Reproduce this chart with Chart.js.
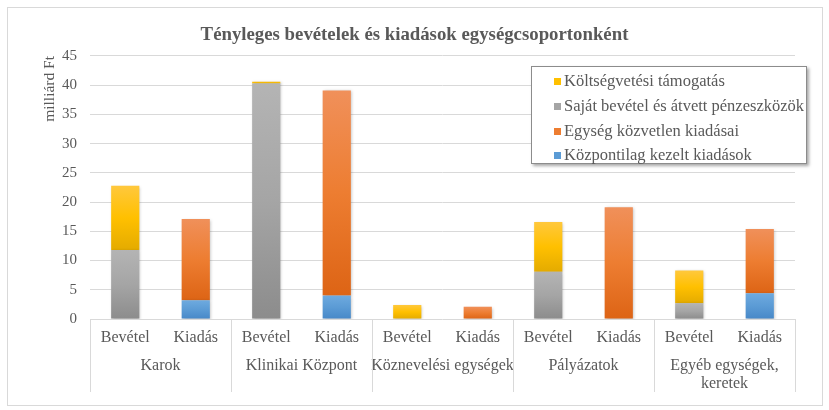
<!DOCTYPE html>
<html>
<head>
<meta charset="utf-8">
<script src="https://cdn.jsdelivr.net/npm/chart.js@4"></script>
<style>
  body { margin: 0; background: #fff; }
  #wrap { position: relative; width: 829px; height: 410px; }
  #frame { position: absolute; left: 7px; top: 7px; width: 814px; height: 397px; border: 1px solid #d9d9d9; }
  canvas { position: absolute; left: 0; top: 0; }
  #legend {
    position: absolute; left: 531px; top: 66px; width: 274px; height: 94px; padding-top: 2px;
    background: #fff; border: 1px solid #8c8c8c; box-shadow: 2px 2px 3px rgba(0,0,0,0.35);
    font-family: 'Liberation Serif', 'Times New Roman', serif; font-size: 16.5px; color: #595959;
  }
  #legend div { height: 24.8px; line-height: 24.8px; padding-left: 22px; white-space: nowrap; }
  #legend span { display: inline-block; width: 7px; height: 7px; margin-right: 3px; vertical-align: 1px; }
</style>
</head>
<body>
<div id="wrap">
  <div id="frame"></div>
  <canvas id="myChart" width="829" height="410"></canvas>
  <div id="legend"></div>
</div>
<script>
// kategóriák
const alKategoriak = ['Bevétel', 'Kiadás', 'Bevétel', 'Kiadás', 'Bevétel', 'Kiadás', 'Bevétel', 'Kiadás', 'Bevétel', 'Kiadás'];
const csoportok = ['Karok', 'Klinikai Központ', 'Köznevelési egységek', 'Pályázatok', ['Egyéb egységek,', 'keretek']];

// értékek (milliárd Ft)
const kozpontilag = [0, 3.2, 0, 4.0, 0, 0, 0, 0, 0, 4.4];
const egysegKozvetlen = [0, 13.9, 0, 35.1, 0, 2.1, 0, 19.1, 0, 11.0];
const sajatBevetel = [11.8, 0, 40.3, 0, 0, 0, 8.1, 0, 2.7, 0];
const koltsegvetesi = [11.0, 0, 0.3, 0, 2.4, 0, 8.5, 0, 5.6, 0];

const yTicks = [0, 5, 10, 15, 20, 25, 30, 35, 40, 45];

const betu = "'Liberation Serif', 'Times New Roman', serif";
Chart.defaults.font.family = betu;
Chart.defaults.font.size = 16;
Chart.defaults.color = '#595959';

// Excel-szerű színátmenet minden szegmensre külön
function szegmensSzin(szinek) {
  return function (ctx) {
    const chart = ctx.chart;
    const y = chart.scales.y;
    if (ctx.type !== 'data' || !y || !chart.chartArea) return szinek[1];
    const i = ctx.datasetIndex, j = ctx.dataIndex;
    let alap = 0;
    for (let k = 0; k < i; k++) alap += chart.data.datasets[k].data[j] || 0;
    const v = chart.data.datasets[i].data[j] || 0;
    if (!v) return szinek[1];
    const teto = y.getPixelForValue(alap + v), alja = y.getPixelForValue(alap);
    const g = chart.ctx.createLinearGradient(0, teto, 0, alja);
    g.addColorStop(0, szinek[0]);
    g.addColorStop(0.5, szinek[1]);
    g.addColorStop(1, szinek[2]);
    return g;
  };
}

const sorozatok = [
  { label: 'Központilag kezelt kiadások', data: kozpontilag, szinek: ['#6eaadf', '#5b9bd5', '#4788c8'] },
  { label: 'Egység közvetlen kiadásai', data: egysegKozvetlen, szinek: ['#f0905a', '#ed7d31', '#dd6415'] },
  { label: 'Saját bevétel és átvett pénzeszközök', data: sajatBevetel, szinek: ['#b4b4b4', '#a5a5a5', '#8c8c8c'] },
  { label: 'Költségvetési támogatás', data: koltsegvetesi, szinek: ['#ffc83d', '#ffc000', '#e4ab00'] }
];

// árnyék az oszlopok alatt
const oszlopArnyek = {
  id: 'oszlopArnyek',
  beforeDatasetsDraw(chart) {
    const c = chart.ctx;
    c.save();
    c.shadowColor = 'rgba(0,0,0,0.25)';
    c.shadowBlur = 3;
    c.shadowOffsetX = 1;
    c.shadowOffsetY = 1;
  },
  afterDatasetsDraw(chart) { chart.ctx.restore(); }
};

// függőleges elválasztók a csoportok között
const csoportVonalak = {
  id: 'csoportVonalak',
  afterDraw(chart) {
    const x = chart.scales.x, c = chart.ctx;
    const fent = chart.chartArea.bottom, lent = chart.scales.x2.bottom - 1;
    c.save();
    c.strokeStyle = '#d9d9d9';
    c.lineWidth = 1;
    for (let g = 0; g <= csoportok.length; g++) {
      const px = Math.round(x.getPixelForValue(g * 2 - 0.5)) + 0.5;
      c.beginPath();
      c.moveTo(px, fent);
      c.lineTo(px, lent);
      c.stroke();
    }
    c.restore();
  }
};

var ctx = document.getElementById('myChart').getContext('2d');
new Chart(ctx, {
  type: 'bar',
  data: {
    labels: alKategoriak,
    datasets: sorozatok.map(s => ({
      label: s.label,
      data: s.data,
      backgroundColor: szegmensSzin(s.szinek),
      borderWidth: 0,
      categoryPercentage: 1,
      barPercentage: 0.4
    }))
  },
  options: {
    responsive: false,
    animation: false,
    layout: { padding: { left: 0, right: 0, top: 0, bottom: 17 } },
    plugins: {
      legend: { display: false },
      tooltip: { enabled: false },
      title: {
        display: true,
        text: 'Tényleges bevételek és kiadások egységcsoportonként',
        font: { size: 18.8, weight: 'bold', family: betu },
        color: '#595959',
        padding: { top: 24, bottom: 9.4 }
      }
    },
    scales: {
      x: {
        stacked: true,
        grid: { display: false, drawTicks: false },
        border: { display: false },
        ticks: { padding: 9.4, autoSkip: false, maxRotation: 0, minRotation: 0, font: { size: 16 } },
        afterFit: s => { s.height = 30; }
      },
      x2: {
        type: 'category',
        labels: csoportok,
        position: 'bottom',
        grid: { display: false, drawTicks: false },
        border: { display: false },
        ticks: { padding: 8.2, autoSkip: false, maxRotation: 0, minRotation: 0, font: { size: 16, lineHeight: 1.1 } },
        afterFit: s => { s.height = 44; }
      },
      y: {
        stacked: true,
        min: 0,
        max: 45,
        afterBuildTicks: s => { s.ticks = yTicks.map(v => ({ value: v })); },
        grid: { color: '#d9d9d9', lineWidth: 1, drawTicks: false },
        border: { display: false },
        ticks: { padding: 13, font: { size: 15 } },
        title: {
          display: true,
          text: 'milliárd Ft',
          align: 'end',
          font: { size: 15.5, family: betu },
          color: '#595959',
          padding: { top: 41, bottom: 0 }
        },
        afterFit: s => { s.width = 90; }
      },
      // üres jobb oldali sáv, hogy a cím a teljes szélességhez igazodjon
      jobbSav: {
        type: 'linear',
        position: 'right',
        grid: { display: false, drawTicks: false },
        border: { display: false },
        ticks: { display: false },
        afterFit: s => { s.width = 34; }
      }
    }
  },
  plugins: [oszlopArnyek, csoportVonalak]
});

// jelmagyarázat (fordított sorrend, mint az eredetin)
const legendDiv = document.getElementById('legend');
sorozatok.slice().reverse().forEach(s => {
  const sor = document.createElement('div');
  const jel = document.createElement('span');
  jel.style.background = s.szinek[1];
  sor.appendChild(jel);
  sor.appendChild(document.createTextNode(s.label));
  legendDiv.appendChild(sor);
});
</script>
</body>
</html>
